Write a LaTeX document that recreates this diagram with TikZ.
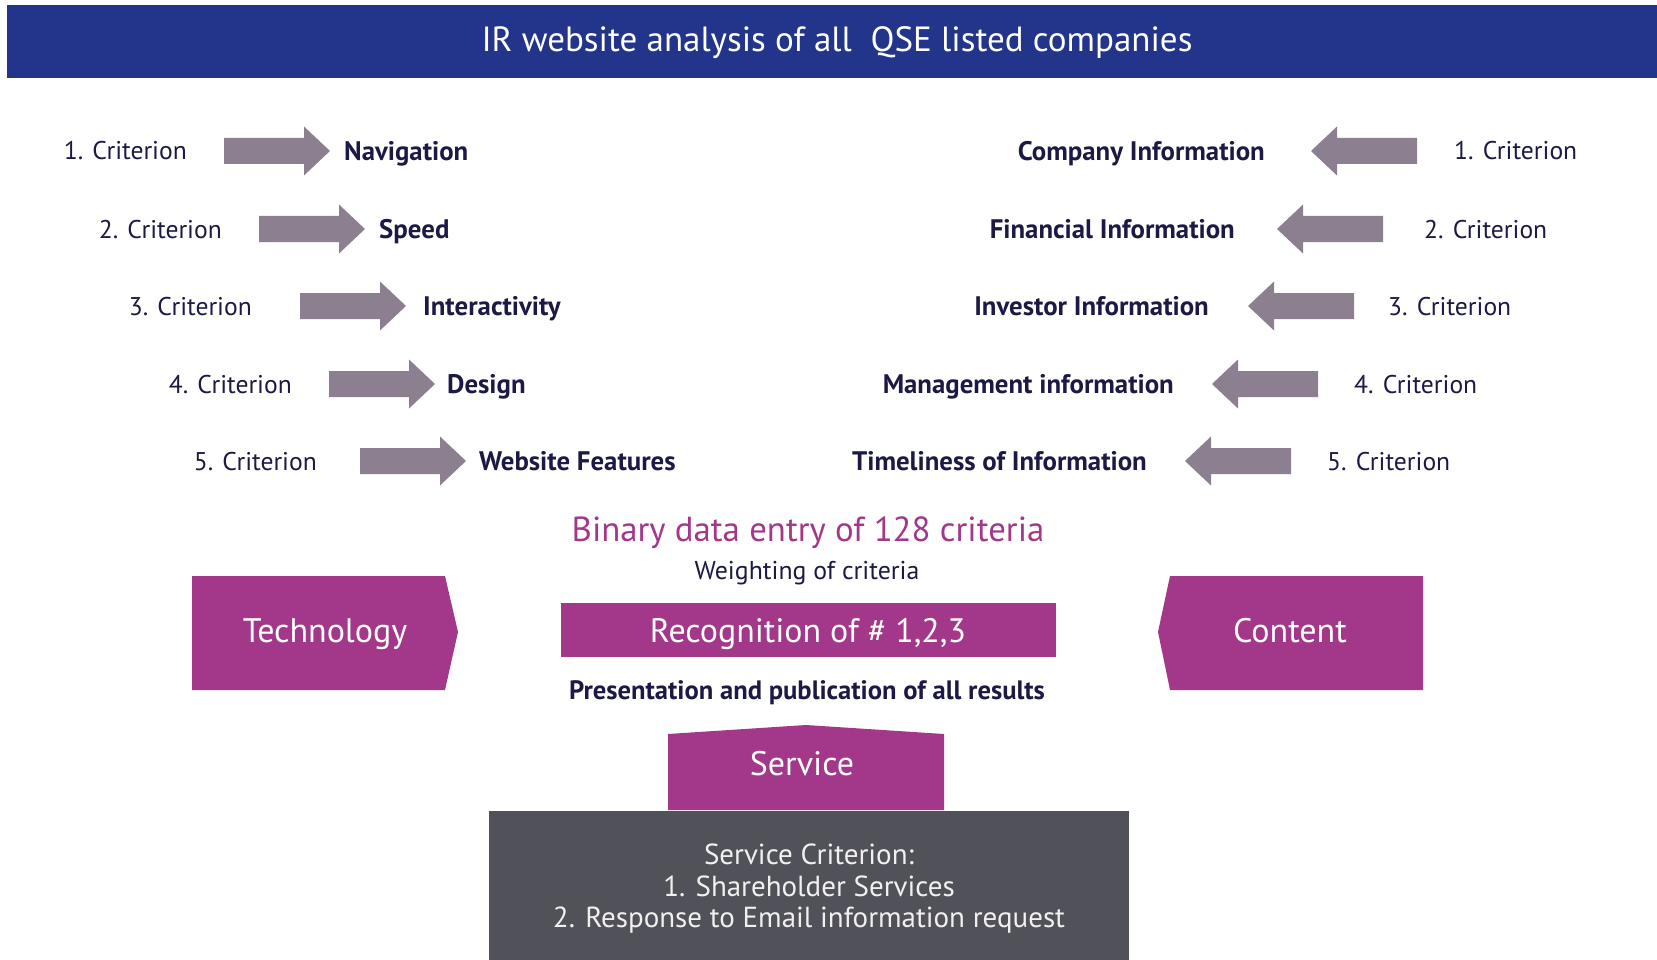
\documentclass[tikz,border=0pt]{standalone}
\usepackage{fontspec}
\setmainfont{PT Sans}
\definecolor{banner}{HTML}{23358B}
\definecolor{magen}{HTML}{A3378A}
\definecolor{arrowgray}{HTML}{8C7F8F}
\definecolor{navy}{HTML}{1C1A45}
\definecolor{boxgray}{HTML}{515159}
\tikzset{
  crit/.style={text=navy, font=\fontsize{25.6}{30}\selectfont, inner sep=0pt, text height=18pt, text depth=0pt},
  lbl/.style={text=navy, font=\fontsize{26.8}{30}\selectfont\bfseries, inner sep=0pt, text height=19pt, text depth=0pt},
  arrowfill/.style={fill=arrowgray},
  whitetxt/.style={text=white, inner sep=0pt, text depth=0pt},
}
\begin{document}
\begin{tikzpicture}[x=1pt,y=-1pt]
\useasboundingbox (0,0) rectangle (1657,960);
% banner
\fill[banner] (7,5) rectangle (1657,78);
\node[whitetxt, text height=24.5pt, font=\fontsize{35}{40}\selectfont] (title) at (837,39) {IR website analysis of all\ \ QSE listed companies};

% left column
\foreach \i/\cx/\ax/\lx/\txt/\y in {
  1/187/224/344/Navigation/151,
  2/222/259/379/Speed/229,
  3/252/300/423/Interactivity/306,
  4/292/329/447/Design/384,
  5/317/360/479/Website Features/461}{
  \node[crit, anchor=east] (lc\i) at (\cx,\y) {\i. Criterion};
  \coordinate (la\i) at (\ax,\y);
  \fill[arrowfill] (la\i) ++(0,-13) -- ++(80,0) -- ++(0,-11.5) -- ++(26,24.5) -- ++(-26,24.5) -- ++(0,-11.5) -- ++(-80,0) -- cycle;
  \node[lbl, anchor=west] (ll\i) at (\lx,\y) {\txt};
}

% right column
\foreach \i/\cx/\ax/\lx/\txt/\y in {
  1/1454/1417/1265/Company Information/151,
  2/1424/1383/1235/Financial Information/229,
  3/1388/1354/1209/Investor Information/306,
  4/1354/1318/1174/Management information/384,
  5/1327/1291/1147/Timeliness of Information/461}{
  \node[crit, anchor=west] (rc\i) at (\cx,\y) {\i. Criterion};
  \coordinate (ra\i) at (\ax,\y);
  \fill[arrowfill] (ra\i) ++(0,-13) -- ++(-80,0) -- ++(0,-11.5) -- ++(-26,24.5) -- ++(26,24.5) -- ++(0,-11.5) -- ++(80,0) -- cycle;
  \node[lbl, anchor=east] (rl\i) at (\lx,\y) {\txt};
}

% middle
\node[text=magen, inner sep=0pt, text height=24.5pt, text depth=0pt, font=\fontsize{34.8}{38}\selectfont] (binary) at (808,529) {Binary data entry of 128 criteria};
\node[text=navy, inner sep=0pt, text height=18pt, text depth=0pt, font=\fontsize{25.8}{30}\selectfont] (weight) at (807,570) {Weighting of criteria};
\fill[magen] (561,603) rectangle (1056,657);
\node[whitetxt, text height=24pt, font=\fontsize{33.9}{38}\selectfont] (recog) at (808,630) {Recognition of \# 1,2,3};
\node[lbl, text height=18.5pt, font=\fontsize{26.6}{30}\selectfont\bfseries] (present) at (807,690) {Presentation and publication of all results};

% technology
\fill[magen] (192,576) -- (445,576) -- (458,632) -- (445,690) -- (192,690) -- cycle;
\node[whitetxt, text height=24pt, font=\fontsize{34}{38}\selectfont] (tech) at (325,630) {Technology};
% content
\fill[magen] (1170,576) -- (1423,576) -- (1423,690) -- (1170,690) -- (1158,632) -- cycle;
\node[whitetxt, text height=24pt, font=\fontsize{34}{38}\selectfont] (content) at (1290,630) {Content};

% service
\fill[magen] (668,734) -- (806,725) -- (944,734) -- (944,810) -- (668,810) -- cycle;
\node[whitetxt, text height=24pt, font=\fontsize{34}{38}\selectfont] (service) at (802,763) {Service};

% gray box
\fill[boxgray] (489,811) rectangle (1129,960);
\node[text=white!94!black, inner sep=0pt, align=center, font=\fontsize{29}{31.5}\selectfont] (servcrit) at (809,889)
  {Service Criterion:\\1. Shareholder Services\\2. Response to Email information request};
\end{tikzpicture}
\end{document}
